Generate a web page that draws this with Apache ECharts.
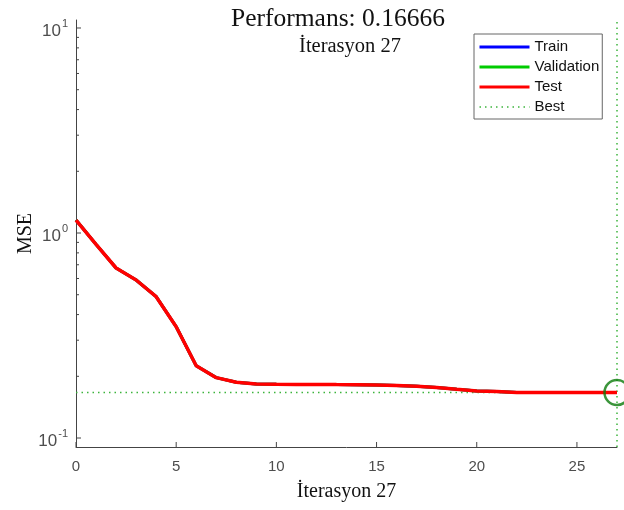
<!DOCTYPE html>
<html><head><meta charset="utf-8">
<script src="https://cdn.jsdelivr.net/npm/echarts@6/dist/echarts.min.js"></script>
<style>html,body{margin:0;padding:0;background:#fff}#c{width:624px;height:510px}</style>
</head><body><div id="c"></div>
<script>
// ---- data ----
const iterations = [0,1,2,3,4,5,6,7,8,9,10,11,12,13,14,15,16,17,18,19,20,21,22,23,24,25,26,27];
const trainMSE = [1.157,0.88,0.675,0.59,0.489,0.349,0.225,0.197,0.187,0.1834,0.1828,0.1826,0.1825,0.1822,0.182,0.1816,0.1803,0.1787,0.1763,0.1728,0.1696,0.1686,0.1669,0.16666,0.16666,0.16666,0.16666,0.16666];
const validationMSE = [1.157,0.88,0.675,0.59,0.489,0.349,0.225,0.197,0.187,0.1834,0.1828,0.1826,0.1825,0.1822,0.182,0.1816,0.1803,0.1787,0.1763,0.1728,0.1696,0.1686,0.1669,0.16666,0.16666,0.16666,0.16666,0.16666];
const testMSE = [1.157,0.88,0.675,0.59,0.489,0.349,0.225,0.197,0.187,0.1834,0.1828,0.1826,0.1825,0.1822,0.182,0.1816,0.1803,0.1787,0.1763,0.1728,0.1696,0.1686,0.1669,0.16666,0.16666,0.16666,0.16666,0.16666];
const bestEpoch = 27;
const bestPerf = 0.16666;
const xTickValues = [0,5,10,15,20,25];
const yMajorTicks = [0.1,1,10];
const yMinorTicks = [0.2,0.3,0.4,0.5,0.6,0.7,0.8,0.9,2,3,4,5,6,7,8,9];
const titleLine1 = 'Performans: 0.16666';
const titleLine2 = 'İterasyon 27';
const xName = 'İterasyon 27';
const yName = 'MSE';
const legendNames = ['Train','Validation','Test','Best'];

// ---- chart ----
const axisColor = '#444';
const chart = echarts.init(document.getElementById('c'), null, {renderer:'canvas'});
const pairs = arr => iterations.map((x,i)=>[x, arr[i]]);
const tickData = yMajorTicks.map(v=>[0,v,5]).concat(yMinorTicks.map(v=>[0,v,3]))
  .concat(xTickValues.map(v=>[v,0.0904,-5]));

const option = {
  animation:false,
  backgroundColor:'#fff',
  title:{
    text:'{a|' + titleLine1 + '}\n{b|' + titleLine2 + '}', left:333, top:1, textAlign:'center',
    textStyle:{
      fontFamily:'Liberation Serif', fontWeight:'normal', color:'#111',
      rich:{
        a:{fontFamily:'Liberation Serif', fontSize:25.5, color:'#111', lineHeight:27, align:'center'},
        b:{fontFamily:'Liberation Serif', fontSize:20.5, color:'#111', lineHeight:27, align:'center', padding:[0,0,0,24]}
      }
    }
  },
  legend:{
    data:legendNames.map((n,i)=>({name:n, lineStyle:{width: i<3 ? 3 : 1.5}})),
    orient:'vertical', left:474, top:34,
    itemWidth:50, itemHeight:10, itemGap:4,
    padding:[5,3,4,4], borderColor:'#666', borderWidth:1, backgroundColor:'#fff',
    itemStyle:{opacity:0},
    textStyle:{fontFamily:'Liberation Sans', fontSize:15, color:'#111', lineHeight:16},
    selectedMode:false
  },
  grid:{left:76, right:7, top:20, bottom:63, containLabel:false, outerBoundsMode:'none'},
  xAxis:{
    type:'value', min:0, max:27, interval:5,
    name:xName, nameLocation:'middle', nameGap:35, nameMoveOverlap:false,
    nameTextStyle:{fontFamily:'Liberation Serif', fontSize:20, color:'#111'},
    axisLine:{show:true, onZero:false, lineStyle:{color:axisColor, width:1}},
    axisTick:{show:false},
    axisLabel:{fontFamily:'Liberation Sans', fontSize:15, color:'#4d4d4d', margin:12, showMaxLabel:false},
    splitLine:{show:false}
  },
  yAxis:{
    type:'log', logBase:10, min:0.0904, max:10.94,
    name:yName, nameLocation:'middle', nameGap:40, nameRotate:90, nameMoveOverlap:false,
    nameTextStyle:{fontFamily:'Liberation Serif', fontSize:20, color:'#111'},
    axisLine:{show:true, lineStyle:{color:axisColor, width:1}},
    axisTick:{show:false},
    splitLine:{show:false},
    axisLabel:{
      showMinLabel:false, showMaxLabel:false, margin:8,
      formatter:function(v){
        const e = Math.log10(v); const r = Math.round(e);
        if (Math.abs(e-r) > 1e-6) return '';
        return '{b|10}{s|' + r + '}';
      },
      rich:{
        b:{fontFamily:'Liberation Sans', fontSize:17, color:'#4d4d4d', padding:[6,0,0,0]},
        s:{fontFamily:'Liberation Sans', fontSize:11, color:'#4d4d4d', padding:[0,0,8,1]}
      }
    }
  },
  series:[
    {name:'Train', type:'line', data:pairs(trainMSE), symbol:'none', lineStyle:{color:'#0000ff', width:3}, itemStyle:{color:'#0000ff'}, z:2},
    {name:'Validation', type:'line', data:pairs(validationMSE), symbol:'none', lineStyle:{color:'#00cc00', width:3}, itemStyle:{color:'#00cc00'}, z:3},
    {name:'Best', type:'line', data:[[0,bestPerf],[bestEpoch,bestPerf]], symbol:'none',
      lineStyle:{color:'#3cb43c', width:1.5, type:[1.5,4]}, itemStyle:{color:'#3cb43c'}, z:4,
      markLine:{silent:true, symbol:'none', label:{show:false},
        lineStyle:{color:'#3cb43c', width:1.5, type:[1.5,4]},
        data:[{xAxis:bestEpoch}]}},
    {name:'Test', type:'line', data:pairs(testMSE), symbol:'none', lineStyle:{color:'#ff0000', width:3.5}, itemStyle:{color:'#ff0000'}, z:5},
    {name:'bestCircle', type:'scatter', data:[[bestEpoch,bestPerf]], symbol:'circle', symbolSize:25, clip:false,
      itemStyle:{color:'rgba(0,0,0,0)', borderColor:'#0a7a0a', borderWidth:2.5}, z:6, silent:true},
    {name:'ticks', type:'custom', data:tickData, silent:true, z:7,
      renderItem:function(params, api){
        const x = api.value(0), y = api.value(1), len = api.value(2);
        const p = api.coord([x,y]);
        if (len > 0) {
          return {type:'line', shape:{x1:p[0], y1:p[1], x2:p[0]+len, y2:p[1]}, style:{stroke:axisColor, lineWidth:1}};
        }
        return {type:'line', shape:{x1:p[0], y1:p[1], x2:p[0], y2:p[1]+len}, style:{stroke:axisColor, lineWidth:1}};
      }}
  ]
};
chart.setOption(option);
</script></body></html>
